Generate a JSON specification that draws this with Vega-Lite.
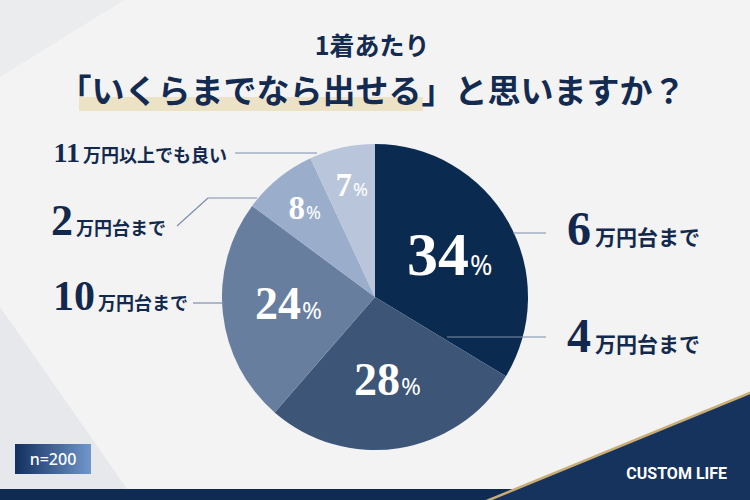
{
  "$schema": "https://vega.github.io/schema/vega-lite/v6.json",
  "width": 750,
  "height": 406,
  "autosize": {"type": "none"},
  "padding": {"top": 94, "left": 0, "right": 0, "bottom": 0},
  "background": "#f3f3f4",
  "config": {"view": {"stroke": null}},
  "datasets": {
    "answers": [
      {"category": "6万円台まで", "num": "6", "unit": "万円台まで", "pct": 34, "rank": 1},
      {"category": "4万円台まで", "num": "4", "unit": "万円台まで", "pct": 28, "rank": 2},
      {"category": "10万円台まで", "num": "10", "unit": "万円台まで", "pct": 24, "rank": 3},
      {"category": "2万円台まで", "num": "2", "unit": "万円台まで", "pct": 8, "rank": 4},
      {"category": "11万円以上でも良い", "num": "11", "unit": "万円以上でも良い", "pct": 7, "rank": 5}
    ],
    "one": [{"n": "n=200"}]
  },
  "data": {"name": "answers"},
  "layer": [
    {
      "data": {"name": "one"},
      "mark": {"type": "point", "shape": "M -1 -1 L -1 1 L 0.396 1 Z", "filled": true, "size": 33124, "color": "#e7e8eb", "opacity": 1, "strokeWidth": 0},
      "encoding": {
        "x": {"datum": 91, "scale": {"domain": [0, 750], "nice": false, "zero": false}, "axis": null},
        "y": {"datum": 398, "scale": {"domain": [94, 500], "nice": false, "zero": false, "reverse": true}, "axis": null}
      }
    },
    {
      "data": {"name": "one"},
      "mark": {"type": "point", "shape": "M -1 -1 L 1 -1 L -1 0.242 Z", "filled": true, "size": 15376, "color": "#ebecee", "opacity": 1, "strokeWidth": 0},
      "encoding": {
        "x": {"datum": 62, "scale": {"domain": [0, 750], "nice": false, "zero": false}, "axis": null},
        "y": {"datum": 62, "scale": {"domain": [94, 500], "nice": false, "zero": false, "reverse": true}, "axis": null}
      }
    },
    {
      "data": {"name": "one"},
      "mark": {"type": "rect", "color": "#ece3c7"},
      "encoding": {
        "x": {"datum": 79, "scale": {"domain": [0, 750], "nice": false, "zero": false}, "axis": null},
        "x2": {"datum": 423},
        "y": {"datum": 97, "scale": {"domain": [94, 500], "nice": false, "zero": false, "reverse": true}, "axis": null},
        "y2": {"datum": 111}
      }
    },
    {
      "data": {"name": "one"},
      "mark": {"type": "text", "align": "center", "baseline": "alphabetic", "font": "Noto Sans CJK JP", "fontWeight": "bold", "fontSize": 25, "color": "#132b50"},
      "encoding": {
        "x": {"datum": 372, "scale": {"domain": [0, 750], "nice": false, "zero": false}, "axis": null},
        "y": {"datum": 55, "scale": {"domain": [94, 500], "nice": false, "zero": false, "reverse": true}, "axis": null},
        "text": {"value": "1着あたり"}
      }
    },
    {
      "data": {"name": "one"},
      "mark": {"type": "text", "align": "center", "baseline": "alphabetic", "font": "Noto Sans CJK JP", "fontWeight": "bold", "fontSize": 33, "color": "#132b50"},
      "encoding": {
        "x": {"datum": 372, "scale": {"domain": [0, 750], "nice": false, "zero": false}, "axis": null},
        "y": {"datum": 103, "scale": {"domain": [94, 500], "nice": false, "zero": false, "reverse": true}, "axis": null},
        "text": {"value": "「いくらまでなら出せる」と思いますか？"}
      }
    },
    {
      "data": {"name": "one"},
      "mark": {"type": "rect", "color": "#0f2b52"},
      "encoding": {
        "x": {"datum": 0, "scale": {"domain": [0, 750], "nice": false, "zero": false}, "axis": null},
        "x2": {"datum": 750},
        "y": {"datum": 489, "scale": {"domain": [94, 500], "nice": false, "zero": false, "reverse": true}, "axis": null},
        "y2": {"datum": 502}
      }
    },
    {
      "data": {"name": "one"},
      "mark": {"type": "point", "shape": "M -1 1 L 1 0.179 L 1 1 Z", "filled": true, "size": 71824, "color": "#16335d", "opacity": 1, "strokeWidth": 0},
      "encoding": {
        "x": {"datum": 618, "scale": {"domain": [0, 750], "nice": false, "zero": false}, "axis": null},
        "y": {"datum": 368, "scale": {"domain": [94, 500], "nice": false, "zero": false, "reverse": true}, "axis": null}
      }
    },
    {
      "data": {"name": "one"},
      "mark": {"type": "rule", "color": "#c9ad74", "strokeWidth": 2.5},
      "encoding": {
        "x": {"datum": 484, "scale": {"domain": [0, 750], "nice": false, "zero": false}, "axis": null},
        "x2": {"datum": 752},
        "y": {"datum": 502, "scale": {"domain": [94, 500], "nice": false, "zero": false, "reverse": true}, "axis": null},
        "y2": {"datum": 392}
      }
    },
    {
      "data": {"name": "one"},
      "mark": {"type": "text", "align": "right", "baseline": "alphabetic", "font": "Roboto", "fontWeight": "bold", "fontSize": 16, "color": "#ffffff"},
      "encoding": {
        "x": {"datum": 727, "scale": {"domain": [0, 750], "nice": false, "zero": false}, "axis": null},
        "y": {"datum": 479, "scale": {"domain": [94, 500], "nice": false, "zero": false, "reverse": true}, "axis": null},
        "text": {"value": "CUSTOM LIFE"}
      }
    },
    {
      "data": {"name": "one"},
      "mark": {"type": "rect", "color": {"gradient": "linear", "x1": 0, "y1": 0, "x2": 1, "y2": 0, "stops": [{"offset": 0, "color": "#12305e"}, {"offset": 1, "color": "#7096cc"}]}},
      "encoding": {
        "x": {"datum": 15, "scale": {"domain": [0, 750], "nice": false, "zero": false}, "axis": null},
        "x2": {"datum": 91},
        "y": {"datum": 444, "scale": {"domain": [94, 500], "nice": false, "zero": false, "reverse": true}, "axis": null},
        "y2": {"datum": 474}
      }
    },
    {
      "data": {"name": "one"},
      "mark": {"type": "text", "align": "center", "baseline": "middle", "font": "Noto Sans", "fontWeight": 500, "fontSize": 16, "color": "#ffffff"},
      "encoding": {
        "x": {"datum": 53, "scale": {"domain": [0, 750], "nice": false, "zero": false}, "axis": null},
        "y": {"datum": 460, "scale": {"domain": [94, 500], "nice": false, "zero": false, "reverse": true}, "axis": null},
        "text": {"field": "n"}
      }
    },
    {
      "mark": {"type": "arc", "outerRadius": 153},
      "encoding": {
        "theta": {"field": "pct", "type": "quantitative", "stack": true},
        "order": {"field": "rank", "type": "quantitative"},
        "color": {"field": "category", "type": "nominal", "legend": null,
          "scale": {"domain": ["6万円台まで", "4万円台まで", "10万円台まで", "2万円台まで", "11万円以上でも良い"],
                    "range": ["#0b2a50", "#3d5678", "#687e9e", "#9aadcb", "#b9c5db"]}}
      }
    },
    {
      "mark": {"type": "text", "radius": 85, "dx": 20, "dy": 20, "align": "right", "baseline": "alphabetic", "font": "Liberation Serif", "fontWeight": "bold", "fontSize": 62, "color": "#ffffff"},
      "encoding": {
        "theta": {"field": "pct", "type": "quantitative", "stack": true},
        "order": {"field": "rank", "type": "quantitative"},
        "text": {"condition": {"test": "datum.pct >= 30", "field": "pct", "type": "quantitative"}, "value": ""}
      }
    },
    {
      "mark": {"type": "text", "radius": 85, "dx": 21, "dy": 20, "align": "left", "baseline": "alphabetic", "font": "Noto Sans", "fontSize": 27, "color": "#ffffff"},
      "encoding": {
        "theta": {"field": "pct", "type": "quantitative", "stack": true},
        "order": {"field": "rank", "type": "quantitative"},
        "text": {"condition": {"test": "datum.pct >= 30", "value": "%"}, "value": ""}
      }
    },
    {
      "mark": {"type": "text", "radius": 86, "dx": 11.6, "dy": 13, "align": "right", "baseline": "alphabetic", "font": "Liberation Serif", "fontWeight": "bold", "fontSize": 46, "color": "#ffffff"},
      "encoding": {
        "theta": {"field": "pct", "type": "quantitative", "stack": true},
        "order": {"field": "rank", "type": "quantitative"},
        "text": {"condition": {"test": "datum.pct >= 20 && datum.pct < 30", "field": "pct", "type": "quantitative"}, "value": ""}
      }
    },
    {
      "mark": {"type": "text", "radius": 86, "dx": 12.6, "dy": 13, "align": "left", "baseline": "alphabetic", "font": "Noto Sans", "fontSize": 24, "color": "#ffffff"},
      "encoding": {
        "theta": {"field": "pct", "type": "quantitative", "stack": true},
        "order": {"field": "rank", "type": "quantitative"},
        "text": {"condition": {"test": "datum.pct >= 20 && datum.pct < 30", "value": "%"}, "value": ""}
      }
    },
    {
      "mark": {"type": "text", "radius": 113, "dx": 1.5, "dy": 9.5, "align": "right", "baseline": "alphabetic", "font": "Liberation Serif", "fontWeight": "bold", "fontSize": 33, "color": "#ffffff"},
      "encoding": {
        "theta": {"field": "pct", "type": "quantitative", "stack": true},
        "order": {"field": "rank", "type": "quantitative"},
        "text": {"condition": {"test": "datum.pct < 20", "field": "pct", "type": "quantitative"}, "value": ""}
      }
    },
    {
      "mark": {"type": "text", "radius": 113, "dx": 2.5, "dy": 9.5, "align": "left", "baseline": "alphabetic", "font": "Noto Sans", "fontSize": 18, "color": "#ffffff"},
      "encoding": {
        "theta": {"field": "pct", "type": "quantitative", "stack": true},
        "order": {"field": "rank", "type": "quantitative"},
        "text": {"condition": {"test": "datum.pct < 20", "value": "%"}, "value": ""}
      }
    },
    {
      "data": {"name": "one"},
      "mark": {"type": "rule", "color": "#7d8eaa", "strokeWidth": 1.2},
      "encoding": {
        "x": {"datum": 235, "scale": {"domain": [0, 750], "nice": false, "zero": false}, "axis": null},
        "x2": {"datum": 317},
        "y": {"datum": 153, "scale": {"domain": [94, 500], "nice": false, "zero": false, "reverse": true}, "axis": null},
        "y2": {"datum": 153}
      }
    },
    {
      "data": {"name": "one"},
      "mark": {"type": "rule", "color": "#7d8eaa", "strokeWidth": 1.2},
      "encoding": {
        "x": {"datum": 177, "scale": {"domain": [0, 750], "nice": false, "zero": false}, "axis": null},
        "x2": {"datum": 208},
        "y": {"datum": 226, "scale": {"domain": [94, 500], "nice": false, "zero": false, "reverse": true}, "axis": null},
        "y2": {"datum": 198}
      }
    },
    {
      "data": {"name": "one"},
      "mark": {"type": "rule", "color": "#7d8eaa", "strokeWidth": 1.2},
      "encoding": {
        "x": {"datum": 208, "scale": {"domain": [0, 750], "nice": false, "zero": false}, "axis": null},
        "x2": {"datum": 257},
        "y": {"datum": 198, "scale": {"domain": [94, 500], "nice": false, "zero": false, "reverse": true}, "axis": null},
        "y2": {"datum": 198}
      }
    },
    {
      "data": {"name": "one"},
      "mark": {"type": "rule", "color": "#7d8eaa", "strokeWidth": 1.2},
      "encoding": {
        "x": {"datum": 193, "scale": {"domain": [0, 750], "nice": false, "zero": false}, "axis": null},
        "x2": {"datum": 224},
        "y": {"datum": 303, "scale": {"domain": [94, 500], "nice": false, "zero": false, "reverse": true}, "axis": null},
        "y2": {"datum": 303}
      }
    },
    {
      "data": {"name": "one"},
      "mark": {"type": "rule", "color": "#7d8eaa", "strokeWidth": 1.2},
      "encoding": {
        "x": {"datum": 513, "scale": {"domain": [0, 750], "nice": false, "zero": false}, "axis": null},
        "x2": {"datum": 546},
        "y": {"datum": 233, "scale": {"domain": [94, 500], "nice": false, "zero": false, "reverse": true}, "axis": null},
        "y2": {"datum": 233}
      }
    },
    {
      "data": {"name": "one"},
      "mark": {"type": "rule", "color": "#7d8eaa", "strokeWidth": 1.2},
      "encoding": {
        "x": {"datum": 447, "scale": {"domain": [0, 750], "nice": false, "zero": false}, "axis": null},
        "x2": {"datum": 546},
        "y": {"datum": 337, "scale": {"domain": [94, 500], "nice": false, "zero": false, "reverse": true}, "axis": null},
        "y2": {"datum": 337}
      }
    },
    {
      "transform": [{"filter": "datum.rank === 1"}],
      "mark": {"type": "text", "align": "right", "baseline": "alphabetic", "font": "Liberation Serif", "fontWeight": "bold", "fontSize": 48, "color": "#12294d"},
      "encoding": {
        "x": {"datum": 591, "scale": {"domain": [0, 750], "nice": false, "zero": false}, "axis": null},
        "y": {"datum": 245, "scale": {"domain": [94, 500], "nice": false, "zero": false, "reverse": true}, "axis": null},
        "text": {"field": "num"}
      }
    },
    {
      "transform": [{"filter": "datum.rank === 1"}],
      "mark": {"type": "text", "align": "left", "baseline": "alphabetic", "font": "Noto Sans CJK JP", "fontWeight": "bold", "fontSize": 21, "color": "#12294d"},
      "encoding": {
        "x": {"datum": 595, "scale": {"domain": [0, 750], "nice": false, "zero": false}, "axis": null},
        "y": {"datum": 245, "scale": {"domain": [94, 500], "nice": false, "zero": false, "reverse": true}, "axis": null},
        "text": {"field": "unit"}
      }
    },
    {
      "transform": [{"filter": "datum.rank === 2"}],
      "mark": {"type": "text", "align": "right", "baseline": "alphabetic", "font": "Liberation Serif", "fontWeight": "bold", "fontSize": 48, "color": "#12294d"},
      "encoding": {
        "x": {"datum": 591, "scale": {"domain": [0, 750], "nice": false, "zero": false}, "axis": null},
        "y": {"datum": 352, "scale": {"domain": [94, 500], "nice": false, "zero": false, "reverse": true}, "axis": null},
        "text": {"field": "num"}
      }
    },
    {
      "transform": [{"filter": "datum.rank === 2"}],
      "mark": {"type": "text", "align": "left", "baseline": "alphabetic", "font": "Noto Sans CJK JP", "fontWeight": "bold", "fontSize": 21, "color": "#12294d"},
      "encoding": {
        "x": {"datum": 595, "scale": {"domain": [0, 750], "nice": false, "zero": false}, "axis": null},
        "y": {"datum": 352, "scale": {"domain": [94, 500], "nice": false, "zero": false, "reverse": true}, "axis": null},
        "text": {"field": "unit"}
      }
    },
    {
      "transform": [{"filter": "datum.rank === 3"}],
      "mark": {"type": "text", "align": "right", "baseline": "alphabetic", "font": "Liberation Serif", "fontWeight": "bold", "fontSize": 42, "color": "#12294d"},
      "encoding": {
        "x": {"datum": 95, "scale": {"domain": [0, 750], "nice": false, "zero": false}, "axis": null},
        "y": {"datum": 310, "scale": {"domain": [94, 500], "nice": false, "zero": false, "reverse": true}, "axis": null},
        "text": {"field": "num"}
      }
    },
    {
      "transform": [{"filter": "datum.rank === 3"}],
      "mark": {"type": "text", "align": "left", "baseline": "alphabetic", "font": "Noto Sans CJK JP", "fontWeight": "bold", "fontSize": 18, "color": "#12294d"},
      "encoding": {
        "x": {"datum": 98, "scale": {"domain": [0, 750], "nice": false, "zero": false}, "axis": null},
        "y": {"datum": 310, "scale": {"domain": [94, 500], "nice": false, "zero": false, "reverse": true}, "axis": null},
        "text": {"field": "unit"}
      }
    },
    {
      "transform": [{"filter": "datum.rank === 4"}],
      "mark": {"type": "text", "align": "right", "baseline": "alphabetic", "font": "Liberation Serif", "fontWeight": "bold", "fontSize": 44, "color": "#12294d"},
      "encoding": {
        "x": {"datum": 73, "scale": {"domain": [0, 750], "nice": false, "zero": false}, "axis": null},
        "y": {"datum": 235, "scale": {"domain": [94, 500], "nice": false, "zero": false, "reverse": true}, "axis": null},
        "text": {"field": "num"}
      }
    },
    {
      "transform": [{"filter": "datum.rank === 4"}],
      "mark": {"type": "text", "align": "left", "baseline": "alphabetic", "font": "Noto Sans CJK JP", "fontWeight": "bold", "fontSize": 18, "color": "#12294d"},
      "encoding": {
        "x": {"datum": 76, "scale": {"domain": [0, 750], "nice": false, "zero": false}, "axis": null},
        "y": {"datum": 235, "scale": {"domain": [94, 500], "nice": false, "zero": false, "reverse": true}, "axis": null},
        "text": {"field": "unit"}
      }
    },
    {
      "transform": [{"filter": "datum.rank === 5"}],
      "mark": {"type": "text", "align": "right", "baseline": "alphabetic", "font": "Liberation Serif", "fontWeight": "bold", "fontSize": 28, "color": "#12294d"},
      "encoding": {
        "x": {"datum": 80, "scale": {"domain": [0, 750], "nice": false, "zero": false}, "axis": null},
        "y": {"datum": 162, "scale": {"domain": [94, 500], "nice": false, "zero": false, "reverse": true}, "axis": null},
        "text": {"field": "num"}
      }
    },
    {
      "transform": [{"filter": "datum.rank === 5"}],
      "mark": {"type": "text", "align": "left", "baseline": "alphabetic", "font": "Noto Sans CJK JP", "fontWeight": "bold", "fontSize": 18, "color": "#12294d"},
      "encoding": {
        "x": {"datum": 83, "scale": {"domain": [0, 750], "nice": false, "zero": false}, "axis": null},
        "y": {"datum": 162, "scale": {"domain": [94, 500], "nice": false, "zero": false, "reverse": true}, "axis": null},
        "text": {"field": "unit"}
      }
    }
  ]
}
